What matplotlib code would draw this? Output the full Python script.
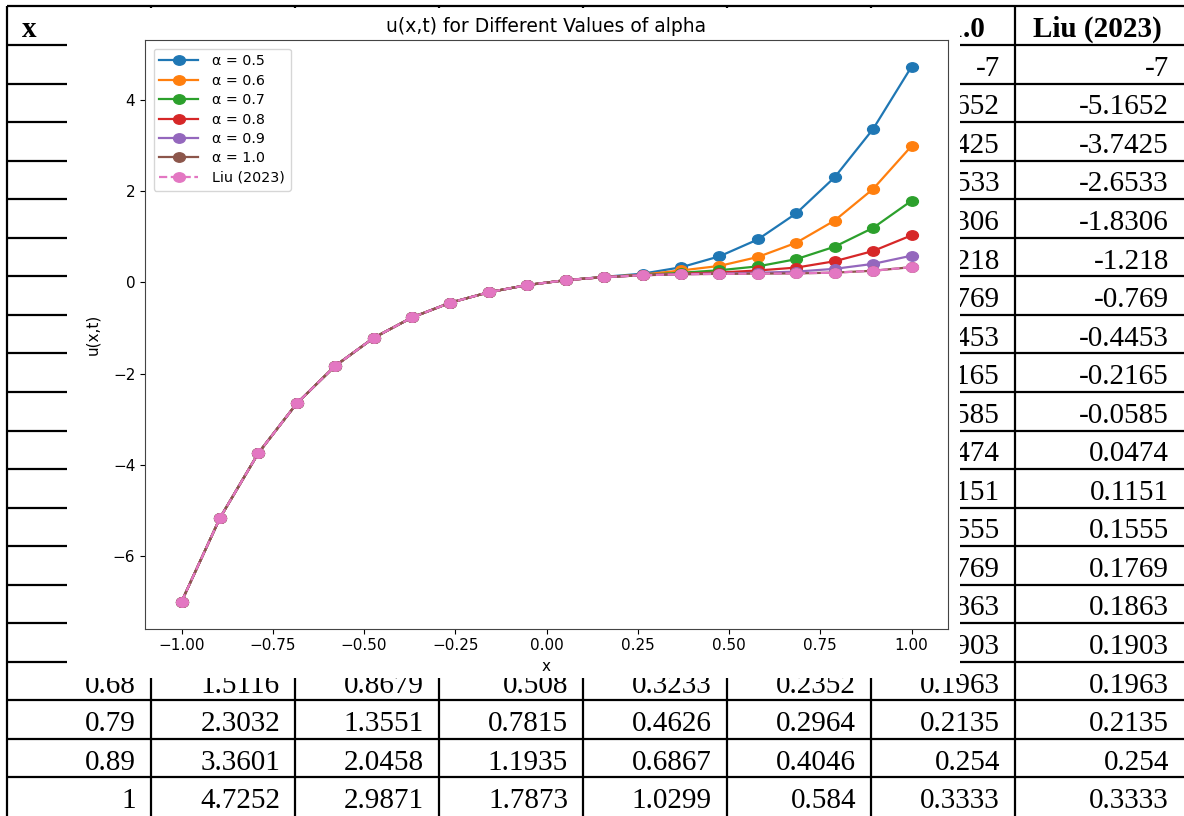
import matplotlib.pyplot as plt
from matplotlib.path import Path
from matplotlib.patches import Rectangle
from matplotlib.transforms import Affine2D

# grid of x values (table shows them rounded to 2 decimals)
x = [-1.0, -0.8947, -0.7895, -0.6842, -0.5789, -0.4737, -0.3684, -0.2632, -0.1579, -0.0526,
     0.0526, 0.1579, 0.2632, 0.3684, 0.4737, 0.5789, 0.6842, 0.7895, 0.8947, 1.0]

# Liu (2023) reference column
liu = [-7, -5.1652, -3.7425, -2.6533, -1.8306, -1.218, -0.769, -0.4453, -0.2165, -0.0585,
       0.0474, 0.1151, 0.1555, 0.1769, 0.1863, 0.1903, 0.1963, 0.2135, 0.254, 0.3333]

# all alpha curves coincide with Liu on the left part
common = [-7, -5.1652, -3.7425, -2.6533, -1.8306, -1.218, -0.769, -0.4453, -0.2165, -0.0585, 0.0474]

u_05 = common + [0.121, 0.19, 0.33, 0.57, 0.94, 1.5116, 2.3032, 3.3601, 4.7252]
u_06 = common + [0.117, 0.17, 0.26, 0.36, 0.555, 0.8679, 1.3551, 2.0458, 2.9871]
u_07 = common + [0.116, 0.16, 0.21, 0.265, 0.35, 0.508, 0.7815, 1.1935, 1.7873]
u_08 = common + [0.1155, 0.157, 0.19, 0.215, 0.26, 0.3233, 0.4626, 0.6867, 1.0299]
u_09 = common + [0.1152, 0.156, 0.18, 0.193, 0.21, 0.2352, 0.2964, 0.4046, 0.584]
u_10 = liu

alphas = ["0.5", "0.6", "0.7", "0.8", "0.9", "1.0"]
series = [u_05, u_06, u_07, u_08, u_09, u_10]
colors = ["#1f77b4", "#ff7f0e", "#2ca02c", "#d62728", "#9467bd", "#8c564b"]


def fmt(v, nd=4):
    s = f"{v:.{nd}f}".rstrip("0").rstrip(".")
    return s


fig = plt.figure(figsize=(11.84, 8.16), dpi=100)

# ---- background table, drawn in pixel coordinates ----
tab = fig.add_axes([0, 0, 1, 1])
tab.set_xlim(0, 1184)
tab.set_ylim(816, 0)
tab.axis("off")

col_edges = [7, 151, 295, 439, 583, 727, 871, 1015, 1184]
row_top = 45
row_h = 38.55
serif = "Liberation Serif"

tab.hlines([6] + [row_top + k * row_h for k in range(20)], 7, 1184, color="black", lw=1.6)
tab.vlines(col_edges[:-1], 6, 816, color="black", lw=1.6)

tab.text(22, 37, "x", ha="left", va="baseline", fontsize=21, fontweight="bold", family=serif)
for j, a in enumerate(alphas):
    cx = (col_edges[j + 1] + col_edges[j + 2]) / 2
    tab.text(cx, 37, "α = " + a, ha="center", va="baseline", fontsize=21,
             fontweight="bold", family=serif)
tab.text(1097, 37, "Liu (2023)", ha="center", va="baseline", fontsize=21,
         fontweight="bold", family=serif)

columns = [x] + series + [liu]
for i in range(20):
    yb = row_top + i * row_h + row_h / 2 + 11.5
    for j, col in enumerate(columns):
        txt = fmt(col[i], 2) if j == 0 else fmt(col[i])
        tab.text(col_edges[j + 1] - 15, yb, txt, ha="right", va="baseline",
                 fontsize=21, family=serif)

# white patch where the chart screenshot sits on top of the table
tab.add_patch(Rectangle((67, 8), 960 - 67, 678 - 8, facecolor="white",
                        edgecolor="none", zorder=10))

# ---- chart ----
ax = fig.add_axes([145 / 1184, 1 - 628.5 / 816, 803 / 1184, 588.5 / 816], zorder=2)
ax.set_facecolor("white")

oval = Path.unit_circle().transformed(Affine2D().scale(1.25, 1.0))

for a, u, c in zip(alphas, series, colors):
    ax.plot(x, u, marker=oval, markersize=8.5, lw=1.6, color=c, label=f"α = {a}")
ax.plot(x, liu, "--", marker=oval, markersize=8.5, lw=1.6, color="#e377c2", label="Liu (2023)")

ax.set_title("u(x,t) for Different Values of alpha", fontsize=13.5)
ax.set_xlabel("x", fontsize=11)
ax.set_ylabel("u(x,t)", fontsize=11, labelpad=9)
ax.tick_params(labelsize=11)
for s in ax.spines.values():
    s.set_color("#444444")
ax.legend(loc="upper left", fontsize=10.3, handlelength=2.7, handletextpad=1.0,
          labelspacing=0.38, borderaxespad=0.6)

fig.savefig("out.png", dpi=100)
